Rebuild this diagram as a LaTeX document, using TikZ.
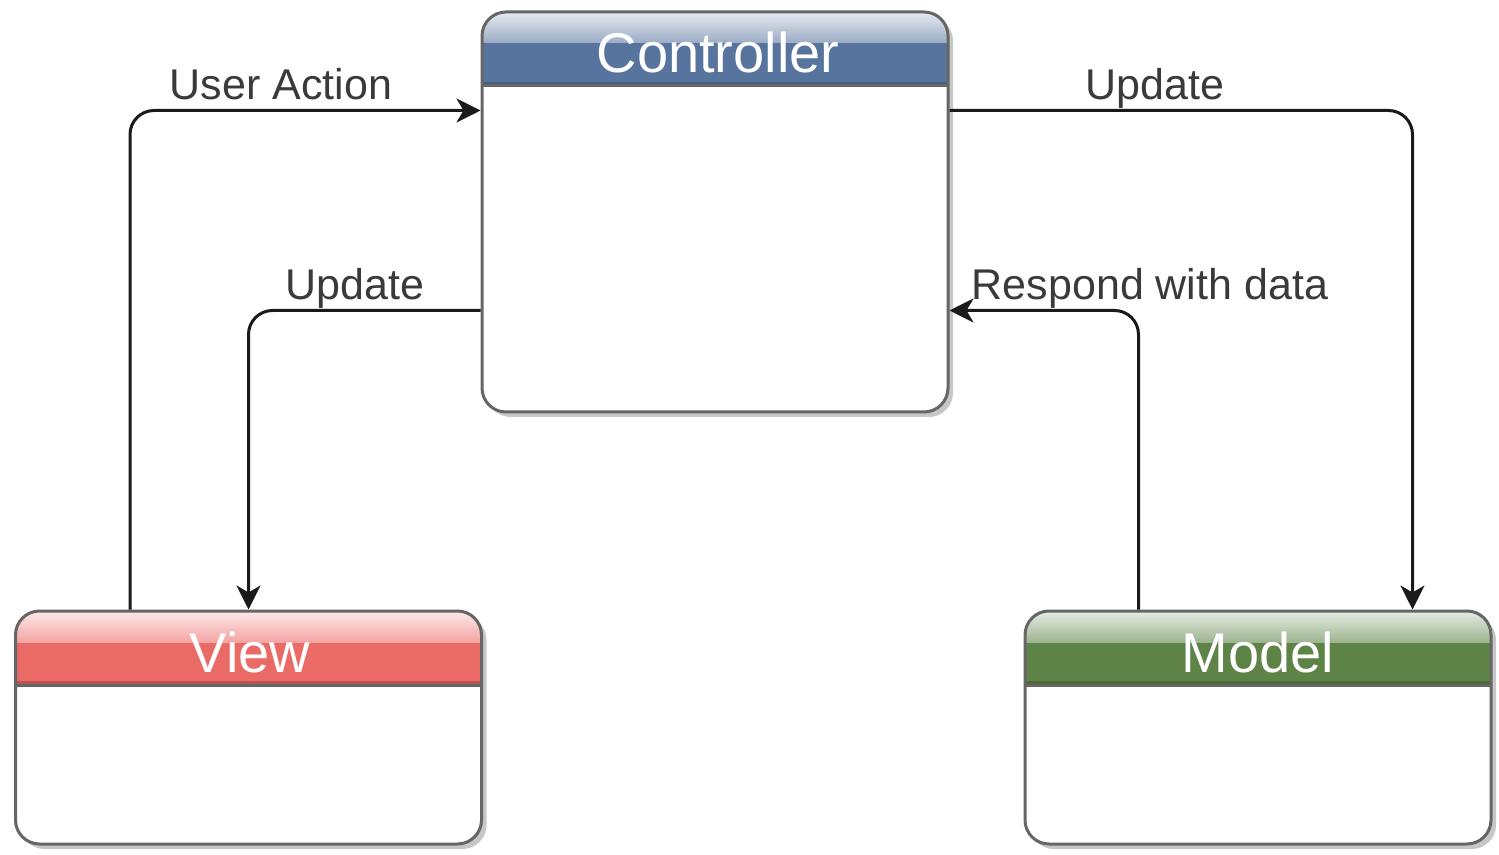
\documentclass[tikz,border=0pt]{standalone}
\usepackage{fontspec}
\setmainfont{Liberation Sans}
\usetikzlibrary{arrows.meta,shadows}
\definecolor{bordercol}{HTML}{666666}
\definecolor{ctrlcol}{HTML}{57749E}
\definecolor{viewcol}{HTML}{EA6A66}
\definecolor{modelcol}{HTML}{5E8347}
\definecolor{linecol}{HTML}{1A1A1A}
\definecolor{lblcol}{HTML}{3A3A3A}
\tikzset{
  mvcbox/.style={draw=bordercol, line width=1.5pt, rounded corners=12pt, fill=white,
    inner sep=0pt, minimum width=233pt,
    drop shadow={shadow xshift=2.5pt, shadow yshift=-2.5pt, fill=black, opacity=0.22},
    path picture={
      \fill[#1, sharp corners] (path picture bounding box.north west) rectangle ([yshift=-36.5pt]path picture bounding box.north east);
      \shade[sharp corners, top color=white!85!#1, bottom color=white!40!#1] (path picture bounding box.north west) rectangle ([yshift=-15.5pt]path picture bounding box.north east);
      \fill[#1!80!black, sharp corners] ([yshift=-35pt]path picture bounding box.north west) rectangle ([yshift=-36.5pt]path picture bounding box.north east);
      \draw[bordercol, line width=1.5pt, sharp corners] ([yshift=-37pt]path picture bounding box.north west) -- ([yshift=-37pt]path picture bounding box.north east);
    }},
  boxtitle/.style={text=white, font=\fontsize{28}{30}\selectfont, anchor=base, inner sep=0pt},
  lbl/.style={text=lblcol, font=\fontsize{21.5}{24}\selectfont, anchor=base, inner sep=0pt},
  conn/.style={draw=linecol, line width=1.5pt, rounded corners=12pt,
    -{Stealth[length=12pt, width=12pt, inset=3.5pt]}}
}
\begin{document}
\begin{tikzpicture}[x=0.5pt, y=-0.5pt]
\useasboundingbox (0,0) rectangle (1499,855);
% boxes
\node[mvcbox=ctrlcol, minimum height=200pt] (ctrl) at (715,212) {};
\node[mvcbox=viewcol, minimum height=116.5pt] (view) at (248.5,727.5) {};
\node[mvcbox=modelcol, minimum height=116.5pt] (model) at (1258,727.5) {};
% titles
\node[boxtitle] (ctrlt) at (718,73) {Controller};
\node[boxtitle] (viewt) at (250,672) {View};
\node[boxtitle] (modelt) at (1258,672) {Model};
% connectors
\draw[conn] ([xshift=58pt]view.north west) |- ([yshift=-50pt]ctrl.north west);
\draw[conn] ([yshift=-150pt]ctrl.north west) -| (view.north);
\draw[conn] ([yshift=-50pt]ctrl.north east) -| ([xshift=194.5pt]model.north west);
\draw[conn] ([xshift=57.5pt]model.north west) |- ([yshift=-150pt]ctrl.north east);
% labels
\node[lbl] (lua) at (281,100) {User Action};
\node[lbl] (lup1) at (355,300) {Update};
\node[lbl] (lup2) at (1155,100) {Update};
\node[lbl] (lresp) at (1150,300) {Respond with data};
\end{tikzpicture}
\end{document}
